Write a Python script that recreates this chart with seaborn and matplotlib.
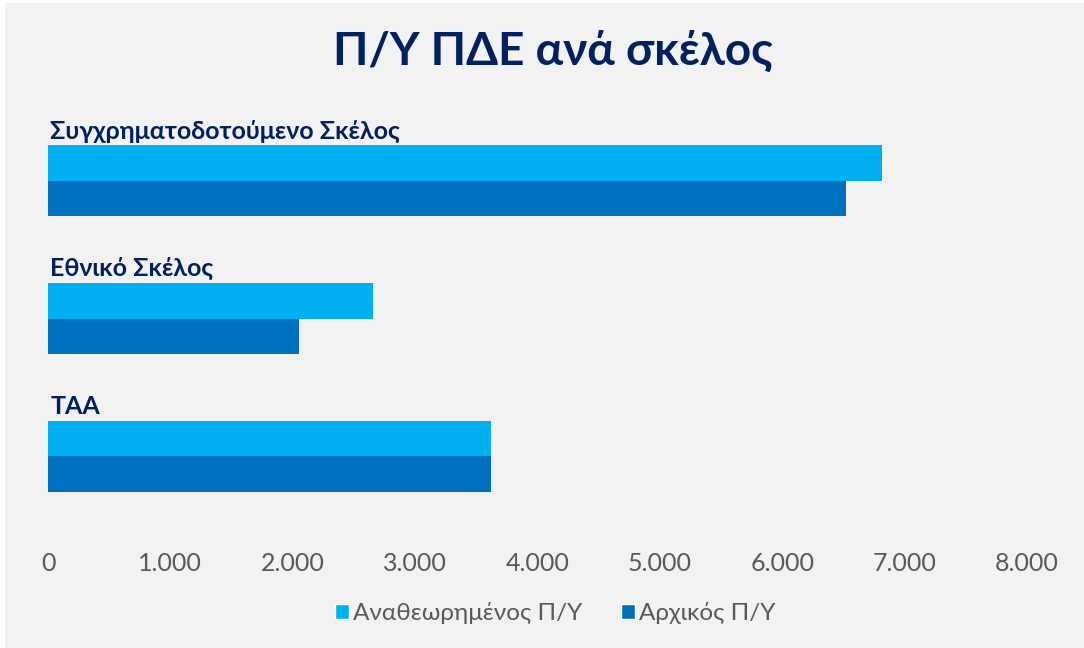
import matplotlib
matplotlib.use("Agg")
import matplotlib.pyplot as plt
import matplotlib.patches as mpatches
import pandas as pd
import seaborn as sns

# Data
categories = ["Συγχρηματοδοτούμενο Σκέλος", "Εθνικό Σκέλος", "ΤΑΑ"]
revised = [6815, 2655, 3620]   # Αναθεωρημένος Π/Υ
initial = [6520, 2055, 3620]   # Αρχικός Π/Υ
series_names = ["Αναθεωρημένος Π/Υ", "Αρχικός Π/Υ"]
x_ticks = [0, 1000, 2000, 3000, 4000, 5000, 6000, 7000, 8000]
x_tick_labels = ["0", "1.000", "2.000", "3.000", "4.000", "5.000", "6.000", "7.000", "8.000"]

colors = ["#00B0F0", "#0070C0"]
navy = "#002060"
grey = "#595959"
bg = "#F2F2F2"

df = pd.DataFrame({
    "category": categories * 2,
    "value": revised + initial,
    "series": [series_names[0]] * 3 + [series_names[1]] * 3,
})

sns.set_theme(style="white")
plt.rcParams["font.family"] = ["Lato", "DejaVu Sans"]

W, H = 1084, 648
fig = plt.figure(figsize=(W / 100, H / 100), dpi=100, facecolor="white")
fig.patches.append(mpatches.Rectangle((5 / W, 0), 1, 1 - 3 / H, transform=fig.transFigure,
                                      facecolor=bg, edgecolor="none", zorder=-10))

ax_top, ax_bot = 110, 530
ax = fig.add_axes([48 / W, 1 - ax_bot / H, (1027 - 48) / W, (ax_bot - ax_top) / H])
ax.set_facecolor(bg)

sns.barplot(data=df, y="category", x="value", hue="series", orient="h",
            palette=colors, width=0.515, dodge=True, ax=ax, legend=False,
            saturation=1, errorbar=None, linewidth=0)

ax.set_xlim(0, 8000)
ax.set_ylim(2 + (ax_bot - 456) / 138, -(181 - ax_top) / 138)
ax.set_xticks(x_ticks)
ax.set_xticklabels(x_tick_labels, fontsize=18, color=grey)
ax.tick_params(axis="x", length=0, pad=16)
ax.set_yticks([])
ax.set_xlabel("")
ax.set_ylabel("")
for s in ax.spines.values():
    s.set_visible(False)

# category labels above each group
for i, cat in enumerate(categories):
    ax.text(20, i - 0.515 / 2 - 0.02, cat, ha="left", va="bottom",
            fontsize=18, fontweight="bold", color=navy)

fig.text(0.51, 1 - 52 / H, "Π/Υ ΠΔΕ ανά σκέλος", ha="center", va="center",
         fontsize=33, fontweight="bold", color=navy)

handles = [mpatches.Patch(facecolor=c, label=n) for c, n in zip(colors, series_names)]
fig.legend(handles=handles, loc="center", bbox_to_anchor=(0.512, 1 - 613 / H),
           ncol=2, frameon=False, fontsize=17.5, labelcolor=grey,
           handlelength=0.6, handleheight=0.6, handletextpad=0.15, columnspacing=1.6)

fig.savefig("out.png", dpi=100, facecolor=fig.get_facecolor())
